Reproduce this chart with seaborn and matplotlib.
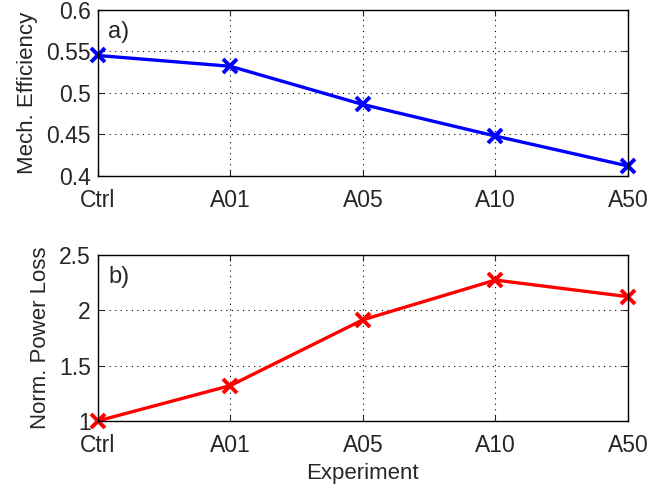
"""Mechanical efficiency and normalised power loss per experiment."""

import matplotlib
matplotlib.use("Agg")
import matplotlib.pyplot as plt
import seaborn as sns
import pandas as pd

# Data
experiments = ["Ctrl", "A01", "A05", "A10", "A50"]
mech_efficiency = [0.545, 0.532, 0.486, 0.448, 0.412]
power_loss = [1.0, 1.319, 1.913, 2.272, 2.122]

eff_ticks = [0.4, 0.45, 0.5, 0.55, 0.6]
eff_tick_labels = ["0.4", "0.45", "0.5", "0.55", "0.6"]
loss_ticks = [1, 1.5, 2, 2.5]
loss_tick_labels = ["1", "1.5", "2", "2.5"]

sns.set_style("ticks")
plt.rcParams['font.family'] = ['Liberation Sans', 'DejaVu Sans']

df = pd.DataFrame({
    "Experiment": experiments,
    "Efficiency": mech_efficiency,
    "Loss": power_loss,
})

fig = plt.figure(figsize=(6.52, 4.9), dpi=100)
ax1 = fig.add_axes([0.150, 0.641, 0.813, 0.339])
ax2 = fig.add_axes([0.150, 0.141, 0.813, 0.339])


def style_axis(ax, ticks, tick_labels, ylabel, tag):
    ax.set_xlim(0, len(experiments) - 1)
    ax.set_ylim(ticks[0], ticks[-1])
    ax.set_yticks(ticks)
    ax.set_yticklabels(tick_labels)
    ax.set_xticks(range(len(experiments)))
    ax.set_xticklabels(experiments)
    ax.tick_params(direction='in', labelsize=16.5, length=4, width=0.8,
                   top=True, right=True)
    ax.tick_params(axis='x', pad=9.5)
    ax.tick_params(axis='y', pad=5)
    ax.grid(True, linestyle=(0, (1, 4)), color='black', linewidth=0.8)
    for spine in ax.spines.values():
        spine.set_visible(True)
        spine.set_linewidth(1.0)
        spine.set_color('black')
    ax.set_ylabel(ylabel, fontsize=16, labelpad=6)
    ax.set_xlabel("")
    ax.text(0.02, 0.93, tag, transform=ax.transAxes, fontsize=17,
            va='top', ha='left')


line_kw = dict(linewidth=2.4, marker='x', markersize=10, markeredgewidth=2.8,
               sort=False, clip_on=False)

# Plot a: mechanical efficiency
sns.lineplot(data=df, x="Experiment", y="Efficiency", ax=ax1, color=(0, 0, 1),
             markeredgecolor=(0, 0, 1), **line_kw)
style_axis(ax1, eff_ticks, eff_tick_labels, "Mech. Efficiency", "a)")

# Plot b: normalised power loss
sns.lineplot(data=df, x="Experiment", y="Loss", ax=ax2, color=(1, 0, 0),
             markeredgecolor=(1, 0, 0), **line_kw)
style_axis(ax2, loss_ticks, loss_tick_labels, "Norm. Power Loss", "b)")
ax2.set_xlabel("Experiment", fontsize=16, labelpad=4)

plt.savefig("out.png", dpi=100)
plt.close()
